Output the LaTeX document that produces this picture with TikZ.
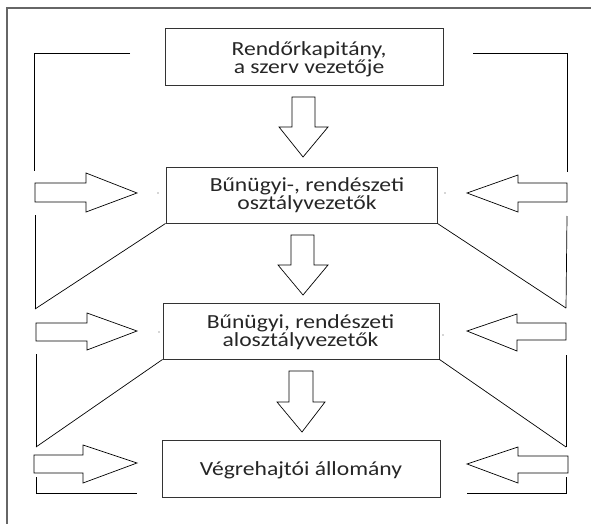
\documentclass[tikz,border=0pt]{standalone}
\usepackage{fontspec}
\setmainfont{Carlito}[FakeStretch=1.18]
\begin{document}
\begin{tikzpicture}[x=1pt,y=-1pt,
  box/.style={draw=black!80,line width=0.9pt,rectangle,inner sep=0pt},
  txt/.style={inner sep=0pt,align=center,font=\fontsize{20}{16}\selectfont,text=black!85},
  ln/.style={draw=black,line width=0.7pt},
  blockarrow/.style={draw=black,line width=0.7pt,fill=white,line join=miter},
  frame/.style={draw=black!60,line width=1.5pt},
  speck/.style={fill=black!70,draw=none}]
\useasboundingbox (0,0) rectangle (591,524);
% outer frame
\draw[frame] (7,524) -- (7,8) -- (591,8);
% boxes
\node[box,minimum width=278pt,minimum height=57pt] (b1) at (304,56.5) {};
\node[box,minimum width=271pt,minimum height=56pt] (b2) at (301.5,195) {};
\node[box,minimum width=276pt,minimum height=56pt] (b3) at (301,331) {};
\node[box,minimum width=278pt,minimum height=57pt] (b4) at (301,468.5) {};
% texts
\node[txt] (t1) at (309,59.5) {Rendőrkapitány,\\a szerv vezetője};
\node[txt] (t2) at (307,195.5) {Bűnügyi-, rendészeti\\osztályvezetők};
\node[txt] (t3) at (300.5,332.5) {Bűnügyi, rendészeti\\alosztályvezetők};
\node[txt,anchor=base] (t4) at (301,475) {Végrehajtói állomány};
% down block arrows
\draw[blockarrow] (292,97) -- (315,97) -- (315,127) -- (328,127) -- (303,157) -- (279,127) -- (292,127) -- cycle;
\draw[blockarrow] (291,235) -- (314,235) -- (314,265) -- (328,265) -- (303,295) -- (278,265) -- (291,265) -- cycle;
\draw[blockarrow] (289,371) -- (313,371) -- (313,402) -- (325,402) -- (302,432) -- (277,402) -- (289,402) -- cycle;
% left bracket
\coordinate (l1) at (35,309);
\coordinate (l2) at (36,447);
\draw[ln] (130,53) -- (34,53) -- (34,171);
\draw[blockarrow] (35,183) -- (86,183) -- (86,173) -- (137,193) -- (86,212) -- (86,202) -- (35,202) -- cycle;
\draw[ln] (35,215) -- (l1);
\draw[ln] (b2.south west) -- (l1);
\draw[blockarrow] (36,323) -- (87,323) -- (87,313) -- (137,331) -- (87,350) -- (87,341) -- (36,341) -- cycle;
\draw[ln] (36,354) -- (l2);
\draw[ln] (b3.south west) -- (l2);
\draw[blockarrow] (34,455) -- (83,455) -- (83,445) -- (137,463) -- (83,483) -- (83,473) -- (34,473) -- cycle;
\draw[ln] (36,477) -- (36,493) -- (137,493);
% right bracket
\coordinate (r1) at (566,308);
\coordinate (r2) at (566,447);
\draw[ln] (473,53) -- (567,53) -- (567,172);
\draw[blockarrow] (567,183) -- (518,183) -- (518,175) -- (467,193) -- (518,212) -- (518,202) -- (567,202) -- cycle;
\draw[ln] (567,216) -- (r1);
\draw[ln] (b2.south east) -- (r1);
\draw[blockarrow] (566,323) -- (517,323) -- (517,314) -- (467,331) -- (517,351) -- (517,340) -- (566,340) -- cycle;
\draw[ln] (566,355) -- (r2);
\draw[ln] (b3.south east) -- (r2);
\draw[blockarrow] (568,456) -- (518,456) -- (518,447) -- (467,464) -- (518,483) -- (518,473) -- (568,473) -- cycle;
\draw[ln] (566,477) -- (566,493) -- (467,493);
% specks
\fill[speck] (158,193) circle (0.7);
\fill[speck] (159,332) circle (0.7);
\fill[speck] (445,193) circle (0.7);
\fill[speck] (443,335) circle (0.7);
\end{tikzpicture}
\end{document}
